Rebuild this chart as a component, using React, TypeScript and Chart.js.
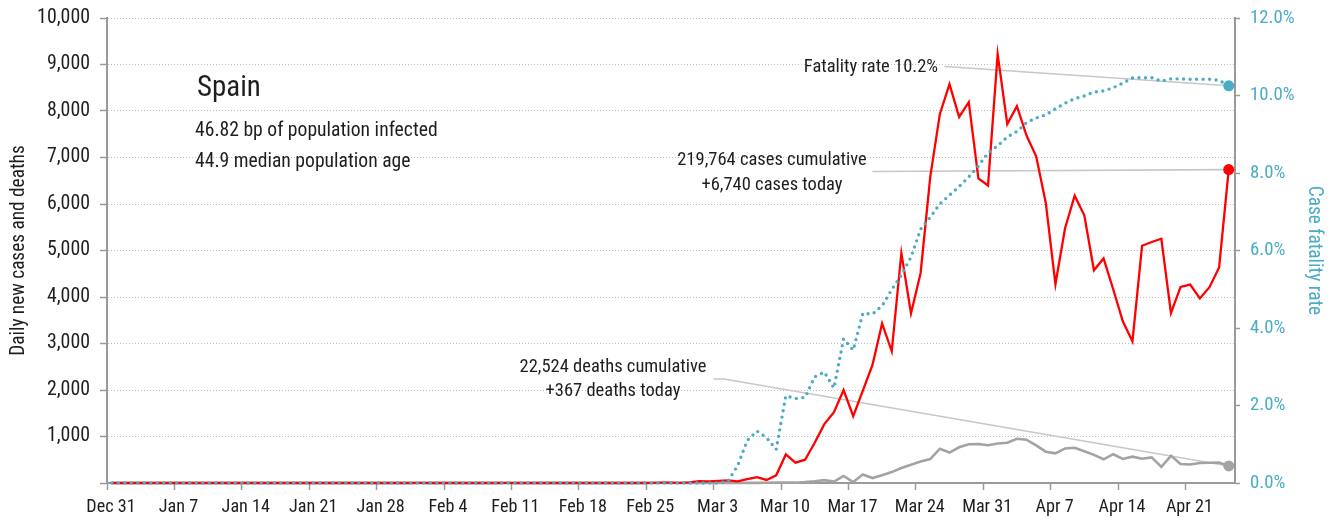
import { useEffect, useRef } from 'react';
import { Chart, registerables } from 'chart.js';

Chart.register(...registerables);

// ---- Data (one value per day, starting Dec 31) ----
const startLabel = 'Dec 31';

const cases = [
  0, 0, 0, 0, 0, 0, 0, 0, 0, 0,
  0, 0, 0, 0, 0, 0, 0, 0, 0, 0,
  0, 0, 0, 0, 0, 0, 0, 0, 0, 0,
  0, 0, 1, 0, 0, 0, 0, 0, 0, 0,
  0, 1, 0, 0, 0, 0, 0, 0, 0, 0,
  0, 0, 0, 0, 0, 0, 4, 7, 8, 4,
  13, 39, 36, 45, 57, 37, 83, 124, 66, 165,
  615, 437, 501, 864, 1266, 1522, 2000, 1438, 1987, 2538,
  3431, 2833, 4946, 3646, 4517, 6584, 7937, 8578, 7871, 8189,
  6549, 6398, 9222, 7719, 8102, 7472, 7026, 6023, 4273, 5478,
  6180, 5756, 4576, 4830, 4167, 3477, 3045, 5103, 5183, 5252,
  3658, 4218, 4266, 3968, 4211, 4635, 6740,
];

const deaths = [
  0, 0, 0, 0, 0, 0, 0, 0, 0, 0,
  0, 0, 0, 0, 0, 0, 0, 0, 0, 0,
  0, 0, 0, 0, 0, 0, 0, 0, 0, 0,
  0, 0, 0, 0, 0, 0, 0, 0, 0, 0,
  0, 0, 0, 0, 0, 0, 0, 0, 0, 0,
  0, 0, 0, 0, 0, 0, 0, 0, 0, 0,
  0, 0, 0, 0, 1, 1, 3, 2, 5, 7,
  11, 7, 19, 36, 62, 30, 152, 21, 182, 107,
  169, 235, 324, 394, 462, 514, 738, 655, 769, 832,
  838, 812, 849, 864, 950, 932, 809, 674, 637, 743,
  757, 683, 605, 510, 619, 517, 567, 523, 551, 347,
  585, 410, 399, 430, 435, 440, 367,
];

const fatalityRate = [
  0, 0, 0, 0, 0, 0, 0, 0, 0, 0,
  0, 0, 0, 0, 0, 0, 0, 0, 0, 0,
  0, 0, 0, 0, 0, 0, 0, 0, 0, 0,
  0, 0, 0, 0, 0, 0, 0, 0, 0, 0,
  0, 0, 0, 0, 0, 0, 0, 0, 0, 0,
  0, 0, 0, 0, 0, 0, 0, 0, 0, 0,
  0, 0, 0, 0, 0.05, 0.45, 1.1, 1.34, 1.17, 0.87,
  2.25, 2.18, 2.21, 2.74, 2.86, 2.45, 3.72, 3.43, 4.38, 4.36,
  4.57, 4.99, 5.37, 5.83, 6.55, 6.86, 7.2, 7.43, 7.65, 7.9,
  8.18, 8.52, 8.7, 8.93, 9.07, 9.3, 9.42, 9.5, 9.66, 9.8,
  9.92, 9.99, 10.09, 10.12, 10.2, 10.32, 10.45, 10.46, 10.46, 10.37,
  10.43, 10.43, 10.42, 10.42, 10.42, 10.39, 10.25,
];

const tickLabels = [
  startLabel, 'Jan 7', 'Jan 14', 'Jan 21', 'Jan 28', 'Feb 4', 'Feb 11', 'Feb 18',
  'Feb 25', 'Mar 3', 'Mar 10', 'Mar 17', 'Mar 24', 'Mar 31', 'Apr 7', 'Apr 14', 'Apr 21',
];

const countryName = 'Spain';
const infoLines = ['46.82 bp of population infected', '44.9 median population age'];
const fatalityLabel = 'Fatality rate 10.2%';
const casesLabels = ['219,764 cases cumulative', '+6,740 cases today'];
const deathsLabels = ['22,524 deaths cumulative', '+367 deaths today'];

// ---- Styles ----
const BASE_FAMILY = "'Liberation Sans', Arial, sans-serif";
const NARROW_CANDIDATES = ['Liberation Sans Narrow', 'Roboto Condensed', 'DejaVu Sans Condensed'];
const BLUE = '#4bacc6';
const RED = '#ff0000';
const GRAY = '#a3a3a3';
const AXIS = '#9a9a9a';
const TEXT = '#1e1e1e';
const NOTE_LINE = '#c8c8c8';

// choose a condensed face if one is installed, scaled to the same text widths
function pickFont(): { family: string; k: number } {
  const c = document.createElement('canvas').getContext('2d');
  if (!c) return { family: BASE_FAMILY, k: 1 };
  const sample = 'Spain 219,764 cases cumulative Mar 31';
  c.font = '40px monospace';
  const mono = c.measureText(sample).width;
  c.font = `40px ${BASE_FAMILY}`;
  const base = c.measureText(sample).width;
  for (const name of NARROW_CANDIDATES) {
    c.font = `40px '${name}', monospace`;
    const w = c.measureText(sample).width;
    if (Math.abs(w - mono) > 0.5) {
      const k = base / w;
      if (k > 1.05) return { family: `'${name}', ${BASE_FAMILY}`, k };
    }
  }
  return { family: BASE_FAMILY, k: 1 };
}

const toPoints = (arr: number[]) => arr.map((v, i) => ({ x: i + 0.5, y: v }));

function makeAnnotationPlugin(family: string, k: number) {
  return {
    id: 'annotations',
    beforeDatasetsDraw(chart: any) {
      const { ctx, scales } = chart;
      const n = cases.length - 1;
      const px = scales.x.getPixelForValue(n + 0.5);
      ctx.save();
      ctx.strokeStyle = NOTE_LINE;
      ctx.lineWidth = 1.6;
      ctx.lineCap = 'round';
      ctx.beginPath();
      ctx.moveTo(937, 58.5);
      ctx.lineTo(px, scales.y1.getPixelForValue(fatalityRate[n]));
      ctx.stroke();
      ctx.beginPath();
      ctx.moveTo(865, 163.5);
      ctx.lineTo(px, scales.y.getPixelForValue(cases[n]));
      ctx.stroke();
      ctx.beginPath();
      ctx.moveTo(706, 371);
      ctx.lineTo(716, 371);
      ctx.lineTo(px, scales.y.getPixelForValue(deaths[n]));
      ctx.stroke();
      ctx.restore();
    },
    afterDatasetsDraw(chart: any) {
      const { ctx } = chart;
      ctx.save();
      ctx.fillStyle = TEXT;
      ctx.textBaseline = 'alphabetic';
      ctx.textAlign = 'left';
      ctx.font = `${25.5 * k}px ${family}`;
      ctx.fillText(countryName, 189, 88);
      ctx.font = `${17.3 * k}px ${family}`;
      ctx.fillText(infoLines[0], 187, 128);
      ctx.fillText(infoLines[1], 187, 159);

      ctx.font = `${16.3 * k}px ${family}`;
      ctx.textBaseline = 'middle';
      ctx.textAlign = 'right';
      ctx.fillText(fatalityLabel, 930, 59);
      ctx.textAlign = 'center';
      ctx.fillText(casesLabels[0], 764, 152);
      ctx.fillText(casesLabels[1], 764, 177);
      ctx.fillText(deathsLabels[0], 605, 359);
      ctx.fillText(deathsLabels[1], 605, 383);
      ctx.restore();
    },
  };
}

export default function App() {
  const ref = useRef<HTMLCanvasElement>(null);

  useEffect(() => {
    if (!ref.current) return;
    const { family, k } = pickFont();
    const last = cases.length - 1;
    const lastOnly = (r: number) => (c: any) => (c.dataIndex === last ? r : 0);

    const chart = new Chart(ref.current, {
      type: 'line',
      data: {
        datasets: [
          {
            label: 'Case fatality rate',
            data: toPoints(fatalityRate),
            yAxisID: 'y1',
            borderColor: BLUE,
            backgroundColor: BLUE,
            borderWidth: 3.4,
            borderDash: [0, 6.5],
            borderCapStyle: 'round',
            pointRadius: lastOnly(5.5),
            pointBackgroundColor: BLUE,
            pointBorderWidth: 0,
            tension: 0,
            order: 0,
          },
          {
            label: 'Daily new cases',
            data: toPoints(cases),
            yAxisID: 'y',
            borderColor: RED,
            backgroundColor: RED,
            borderWidth: 2.3,
            pointRadius: lastOnly(5.5),
            pointBackgroundColor: RED,
            pointBorderWidth: 0,
            tension: 0,
            order: 1,
          },
          {
            label: 'Daily new deaths',
            data: toPoints(deaths),
            yAxisID: 'y',
            borderColor: GRAY,
            backgroundColor: GRAY,
            borderWidth: 2.6,
            pointRadius: lastOnly(5.5),
            pointBackgroundColor: GRAY,
            pointBorderWidth: 0,
            tension: 0,
            order: 2,
          },
        ] as any,
      },
      options: {
        animation: false,
        responsive: true,
        maintainAspectRatio: false,
        events: [],
        layout: { padding: { top: 0, left: 0, right: 0, bottom: 0 } },
        plugins: {
          legend: { display: false },
          tooltip: { enabled: false },
        },
        datasets: { line: { clip: false } as any },
        scales: {
          x: {
            type: 'linear',
            min: 0,
            max: 117.15,
            afterBuildTicks: (s: any) => {
              s.ticks = tickLabels.map((_, i) => ({ value: i * 7 }));
            },
            afterFit: (s: any) => {
              s.height = 34;
            },
            grid: {
              drawOnChartArea: false,
              drawTicks: true,
              tickLength: 7,
              tickColor: AXIS,
              tickWidth: 1.5,
            },
            border: { display: true, color: AXIS, width: 2 },
            ticks: {
              autoSkip: false,
              maxRotation: 0,
              padding: 7,
              labelOffset: 4,
              color: TEXT,
              font: { family, size: 16 * k, lineHeight: 1.1 },
              callback: (v: any) => tickLabels[Math.round(Number(v) / 7)] ?? '',
            },
          },
          y: {
            type: 'linear',
            position: 'left',
            min: 0,
            max: 10000,
            afterFit: (s: any) => {
              s.width = 99;
              s.paddingTop = 10;
              s.paddingBottom = 0;
            },
            grid: {
              color: '#bdbdbd',
              lineWidth: 1,
              tickLength: 7,
              tickColor: AXIS,
              tickWidth: 1.5,
            },
            border: { display: true, color: AXIS, width: 2, dash: [1, 2] },
            ticks: {
              stepSize: 1000,
              padding: 10,
              color: TEXT,
              font: { family, size: 17.5 * k },
              callback: (v: any) => (Number(v) === 0 ? '' : Number(v).toLocaleString('en-US')),
            },
            title: {
              display: true,
              text: 'Daily new cases and deaths',
              color: TEXT,
              font: { family, size: 17 * k, lineHeight: 1.2 },
              padding: { top: 0, bottom: 0 },
            },
          },
          y1: {
            type: 'linear',
            position: 'right',
            min: 0,
            max: 12,
            afterFit: (s: any) => {
              s.width = 93;
              s.paddingTop = 10;
              s.paddingBottom = 0;
            },
            grid: {
              drawOnChartArea: false,
              tickLength: 5,
              tickColor: AXIS,
              tickWidth: 1.5,
            },
            border: { display: true, color: AXIS, width: 2 },
            ticks: {
              stepSize: 2,
              padding: 10,
              color: BLUE,
              font: { family, size: 16.5 * k },
              callback: (v: any) => `${Number(v).toFixed(1)}%`,
            },
            title: {
              display: true,
              text: 'Case fatality rate',
              color: BLUE,
              font: { family, size: 17 * k, lineHeight: 1.2 },
              padding: { top: 3, bottom: 0 },
            },
          },
        },
      } as any,
      plugins: [makeAnnotationPlugin(family, k)],
    });

    return () => chart.destroy();
  }, []);

  return (
    <div style={{ width: 1320, height: 509, position: 'relative' }}>
      <canvas ref={ref} />
    </div>
  );
}
